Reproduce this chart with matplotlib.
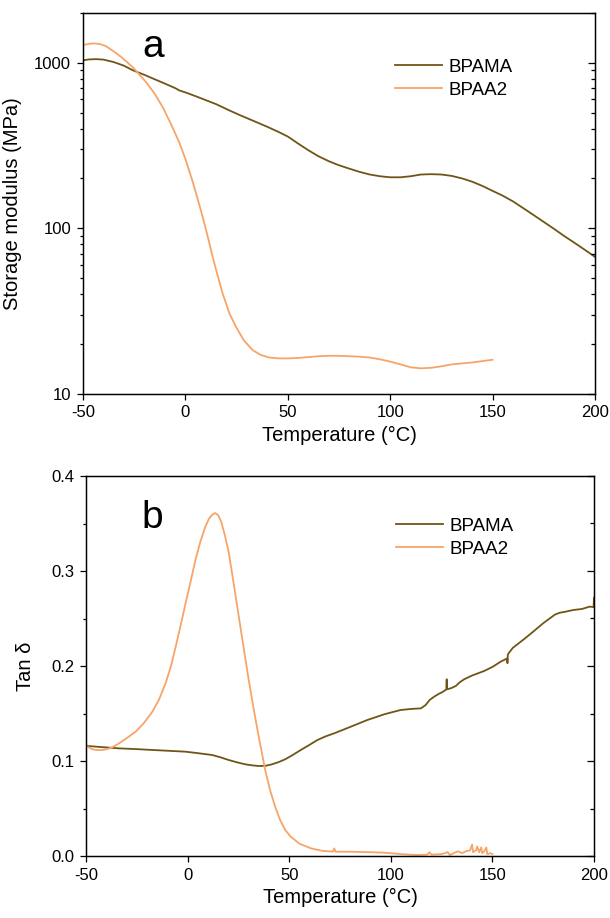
import matplotlib
matplotlib.use("Agg")
import matplotlib.pyplot as plt
from matplotlib.ticker import FixedLocator, NullFormatter, MultipleLocator, LogLocator

plt.rcParams["font.family"] = ["Liberation Sans", "DejaVu Sans"]
plt.rcParams["axes.unicode_minus"] = False

c_bpama = "#6f5517"
c_bpaa2 = "#f7a468"

# -------------------------
# a: storage modulus (MPa)
# -------------------------
t_mod_bpama = [-50, -47, -43.5, -40, -35, -30, -25.6, -20, -15, -10, -5, -2.9, 0, 5, 10,
               15, 21.5, 27, 32, 36.1, 40, 45.8, 50, 55, 60, 65, 70, 75, 80, 85, 90,
               95, 100, 105, 110, 115, 120, 125, 130, 135, 140, 145, 150, 155, 160,
               165, 170, 175, 180, 185, 190, 195, 200]
e_bpama = [1035, 1048, 1052, 1045, 1010, 960, 900, 845, 795, 748, 703, 680, 662, 628, 594,
           562, 515, 480, 452, 430, 410, 380, 358, 325, 296, 272, 254, 240, 229, 219, 211,
           206, 203, 203, 206, 211, 212, 211, 207, 200, 191, 180, 168, 157, 145,
           132, 120, 109, 99, 89.5, 81.5, 74, 67]

t_mod_bpaa2 = [-50, -48.7, -46.5, -44.3, -42, -39, -35.4, -32, -28.5, -25.6, -22.5, -19.1,
               -15, -11, -7, -3, 0, 3.6, 6, 8.5, 11, 13.3, 15.5, 18.2, 21.5, 24.7, 28.5,
               32.8, 36.8, 40.9, 45.8, 50, 55, 60, 65, 70, 75, 80, 85, 90, 95, 100,
               105, 110, 115, 120, 125, 130, 135, 140, 145, 150]
e_bpaa2 = [1279, 1290, 1305, 1309, 1300, 1265, 1181, 1100, 1010, 937, 850, 761,
           650, 537, 425, 330, 262, 190, 150, 116, 88, 67, 53, 40.2, 30.5, 25.3, 21.0,
           18.3, 17.1, 16.5, 16.3, 16.3, 16.4, 16.6, 16.8, 16.9, 16.9, 16.8, 16.7, 16.5, 16.1, 15.6,
           15.0, 14.4, 14.2, 14.3, 14.6, 15.0, 15.2, 15.4, 15.7, 16.0]

# -------------------------
# b: tan delta
# -------------------------
t_tan_bpama = [-50, -49.2, -42, -33.7, -25, -17.3, -9, -1, 6, 12.1, 16, 20.3, 24.5, 28.4,
               31.5, 35, 38.5, 41.5, 45, 48, 51.5, 55.7, 60, 63.9, 68, 72.1, 80.3, 88.5,
               96.7, 100, 104.9, 110, 114.8, 117.2, 119, 121.3, 123.5, 125.4, 127.3,
               127.5, 127.7, 129.5, 132, 134, 136.1, 140, 145.9, 150, 154.1, 157.3,
               157.4, 157.6, 158.2, 160, 163, 166, 170, 175, 180.7, 183, 185.6, 190,
               194, 197.9, 199.8, 200]
tan_bpama = [0.1165, 0.1158, 0.1146, 0.1133, 0.1125, 0.1116, 0.1107, 0.1098, 0.108, 0.1063,
             0.104, 0.101, 0.0985, 0.0965, 0.0955, 0.0947, 0.0950, 0.0965, 0.099, 0.1018,
             0.106, 0.1116, 0.117, 0.1221, 0.126, 0.1291, 0.1361, 0.1432, 0.1491, 0.151,
             0.1537, 0.1548, 0.1554, 0.159, 0.164, 0.1677, 0.1705, 0.1726, 0.1752,
             0.186, 0.1755, 0.1765, 0.179, 0.183, 0.186, 0.190, 0.1947, 0.199, 0.2046,
             0.208, 0.203, 0.212, 0.214, 0.219, 0.224, 0.229, 0.236, 0.245, 0.254, 0.256,
             0.257, 0.259, 0.260, 0.2625, 0.262, 0.272]

t_tan_bpaa2 = [-50, -49.2, -47, -45, -42.5, -40, -37, -33.7, -30, -25.5, -21.5, -17.3, -14,
               -10.8, -8.3, -5.9, -3.5, -1, 1.5, 3.9, 6.3, 8.8, 10.5, 12, 13.5, 15, 16.5,
               18.3, 20.3, 22.8, 25.2, 27.6, 30.1, 32.5, 35, 38.2, 40.5, 43.1, 45.5, 48,
               50.8, 55, 60.7, 66, 71.5, 72.2, 72.8, 80, 90, 96.7, 105, 113, 118, 119, 120,
               125, 128, 129, 131, 133, 135, 137, 139, 140, 140.5, 142, 142.5, 143.5,
               144.5, 145, 146, 147, 147.5, 149, 150]
tan_bpaa2 = [0.116, 0.115, 0.1125, 0.1116, 0.1115, 0.1123, 0.1145, 0.1186, 0.124, 0.131,
             0.140, 0.152, 0.165, 0.182, 0.199, 0.220, 0.242, 0.266, 0.289, 0.312, 0.331,
             0.347, 0.355, 0.359, 0.361, 0.359, 0.352, 0.338, 0.319, 0.285, 0.252, 0.219,
             0.185, 0.155, 0.1256, 0.0905, 0.070, 0.0519, 0.038, 0.0274, 0.0203, 0.013,
             0.0081, 0.0055, 0.0046, 0.008, 0.0045, 0.0045, 0.004, 0.0035, 0.002, 0.001,
             0.0015, 0.004, 0.0015, 0.002, 0.004, 0.001, 0.003, 0.005, 0.003, 0.005, 0.006,
             0.012, 0.004, 0.006, 0.010, 0.004, 0.009, 0.003, 0.005, 0.009, 0.002, 0.003,
             0.002]

fig = plt.figure(figsize=(6.1, 9.18), dpi=100)
ax_a = fig.add_axes([83 / 610, 1 - 393.5 / 918, 512 / 610, 380.5 / 918])
ax_b = fig.add_axes([86 / 610, 1 - 856 / 918, 508 / 610, 380 / 918])


def style_axes(ax, log=False):
    for s in ax.spines.values():
        s.set_linewidth(1.0)
    ax.tick_params(axis="both", which="both", direction="out", labelsize=12,
                   top=False, right=False, width=0.9, pad=4)
    ax.tick_params(which="major", length=4.5)
    ax.tick_params(which="minor", length=2.5)
    ax.set_xlim(-50, 200)
    ax.xaxis.set_major_locator(MultipleLocator(50))
    ax.xaxis.set_minor_locator(FixedLocator([]))
    ax.set_xlabel("Temperature (°C)", fontsize=14.5)
    ax.xaxis.set_label_coords(0.5, -0.085)
    # mirror the y ticks on the right side, pointing inwards
    ax2 = ax.twinx()
    if log:
        ax2.set_yscale("log")
    ax2.set_ylim(ax.get_ylim())
    ax2.yaxis.set_major_locator(ax.yaxis.get_major_locator())
    ax2.yaxis.set_minor_locator(ax.yaxis.get_minor_locator())
    ax2.yaxis.set_major_formatter(NullFormatter())
    ax2.yaxis.set_minor_formatter(NullFormatter())
    ax2.tick_params(which="both", direction="in", width=0.9)
    ax2.tick_params(which="major", length=5)
    ax2.tick_params(which="minor", length=3)


# panel a
ax_a.plot(t_mod_bpama, e_bpama, color=c_bpama, lw=1.3, label="BPAMA")
ax_a.plot(t_mod_bpaa2, e_bpaa2, color=c_bpaa2, lw=1.3, label="BPAA2")
ax_a.set_yscale("log")
ax_a.set_ylim(10, 2000)
ax_a.yaxis.set_major_locator(FixedLocator([10, 100, 1000]))
ax_a.yaxis.set_minor_locator(LogLocator(base=10, subs=range(2, 10)))
ax_a.set_yticklabels(["10", "100", "1000"])
ax_a.yaxis.set_minor_formatter(NullFormatter())
ax_a.set_ylabel("Storage modulus (MPa)", fontsize=14.5)
ax_a.yaxis.set_label_coords(-0.119, 0.5)
style_axes(ax_a, log=True)
ax_a.text(0.138, 0.91, "a", transform=ax_a.transAxes, fontsize=28, va="center", ha="center")
ax_a.legend(loc="upper left", bbox_to_anchor=(0.61, 0.88), frameon=False, fontsize=13.5,
            handlelength=2.5, handletextpad=0.35, labelspacing=0.3,
            borderpad=0, borderaxespad=0)

# panel b
ax_b.plot(t_tan_bpama, tan_bpama, color=c_bpama, lw=1.3, label="BPAMA")
ax_b.plot(t_tan_bpaa2, tan_bpaa2, color=c_bpaa2, lw=1.3, label="BPAA2")
ax_b.set_ylim(0, 0.4)
ax_b.yaxis.set_major_locator(MultipleLocator(0.1))
ax_b.yaxis.set_minor_locator(MultipleLocator(0.05))
ax_b.yaxis.set_major_formatter(plt.FormatStrFormatter("%.1f"))
ax_b.set_ylabel("Tan δ", fontsize=14.5)
ax_b.yaxis.set_label_coords(-0.100, 0.5)
style_axes(ax_b)
ax_b.text(0.13, 0.89, "b", transform=ax_b.transAxes, fontsize=28, va="center", ha="center")
ax_b.legend(loc="upper left", bbox_to_anchor=(0.61, 0.89), frameon=False, fontsize=13.5,
            handlelength=2.5, handletextpad=0.35, labelspacing=0.3,
            borderpad=0, borderaxespad=0)

fig.savefig("out.png", dpi=100)
